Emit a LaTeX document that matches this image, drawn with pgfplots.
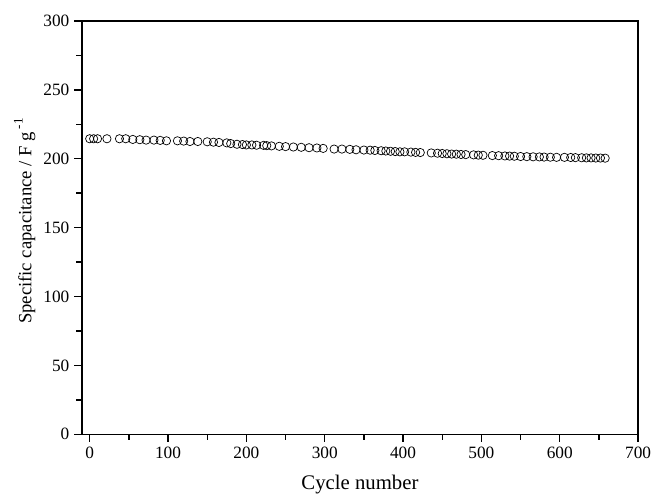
\documentclass[border=0pt]{standalone}
\usepackage{pgfplots}
\pgfplotsset{compat=1.18}
\usepackage{fontspec}
\setmainfont{Liberation Serif}
\begin{document}
\begin{tikzpicture}
\begin{axis}[
  width=402.2pt, height=298.9pt, scale only axis,
  xmin=-10, xmax=700, ymin=0, ymax=300,
  xtick={0,100,...,700}, ytick={0,50,...,300},
  minor xtick={50,150,...,650}, minor ytick={25,75,...,275},
  tick align=outside, xtick pos=bottom, ytick pos=left,
  major tick length=5.5pt, minor tick length=4pt,
  axis line style={line width=1pt}, tick style={line width=1pt, black},
  /pgf/number format/assume math mode=true,
  ticklabel style={font=\fontsize{12.5}{15}\selectfont},
  xlabel={Cycle number},
  ylabel={Specific capacitance / F g\,\raisebox{1pt}{\textsuperscript{-1}}},
  xlabel style={font=\fontsize{15}{17}\selectfont, yshift=-5pt},
  ylabel style={font=\fontsize{13.5}{16}\selectfont, yshift=-1pt, xshift=5pt},
  clip=false,
]
\addplot[only marks, mark=o, mark size=3pt, mark options={line width=0.5pt, black}] coordinates {
(0,214.5)(5,214.5)(10,214.5)(22,214.5)(38,214.5)(46,214.5)(55,214)(64,213.8)(72,213.5)(82,213.5)(90,213.3)(98,213)(112,213)(120,212.8)(128,212.5)(138,212.5)(150,212.3)(158,212)(165,211.8)(175,211.5)(180,211)(188,210.5)(195,210.3)(200,210)(207,210)(213,209.8)(222,209.7)(226,209.5)(232,209.3)(242,209)(250,208.8)(260,208.5)(270,208.3)(280,208)(290,207.8)(298,207.5)(312,207)(322,207)(332,206.8)(340,206.5)(350,206.3)(358,206.2)(364,206)(372,205.8)(378,205.6)(384,205.4)(390,205.2)(396,205)(402,205)(410,204.8)(416,204.6)(422,204.5)(436,204.2)(444,204)(450,203.8)(456,203.6)(462,203.4)(468,203.3)(474,203.1)(480,203)(490,202.8)(496,202.6)(502,202.5)(514,202.3)(522,202.2)(530,202)(536,201.9)(542,201.8)(550,201.6)(558,201.5)(566,201.4)(574,201.3)(580,201.2)(588,201.1)(596,201)(606,201)(614,200.9)(620,200.8)(628,200.7)(634,200.6)(640,200.6)(646,200.5)(652,200.5)(658,200.4)
};
\coordinate (bl) at (axis cs:-114.5,-44.2);
\coordinate (tr) at (axis cs:716.5,315.2);
\end{axis}
\pgfresetboundingbox
\path[use as bounding box] (bl) rectangle (tr);
\end{tikzpicture}
\end{document}
